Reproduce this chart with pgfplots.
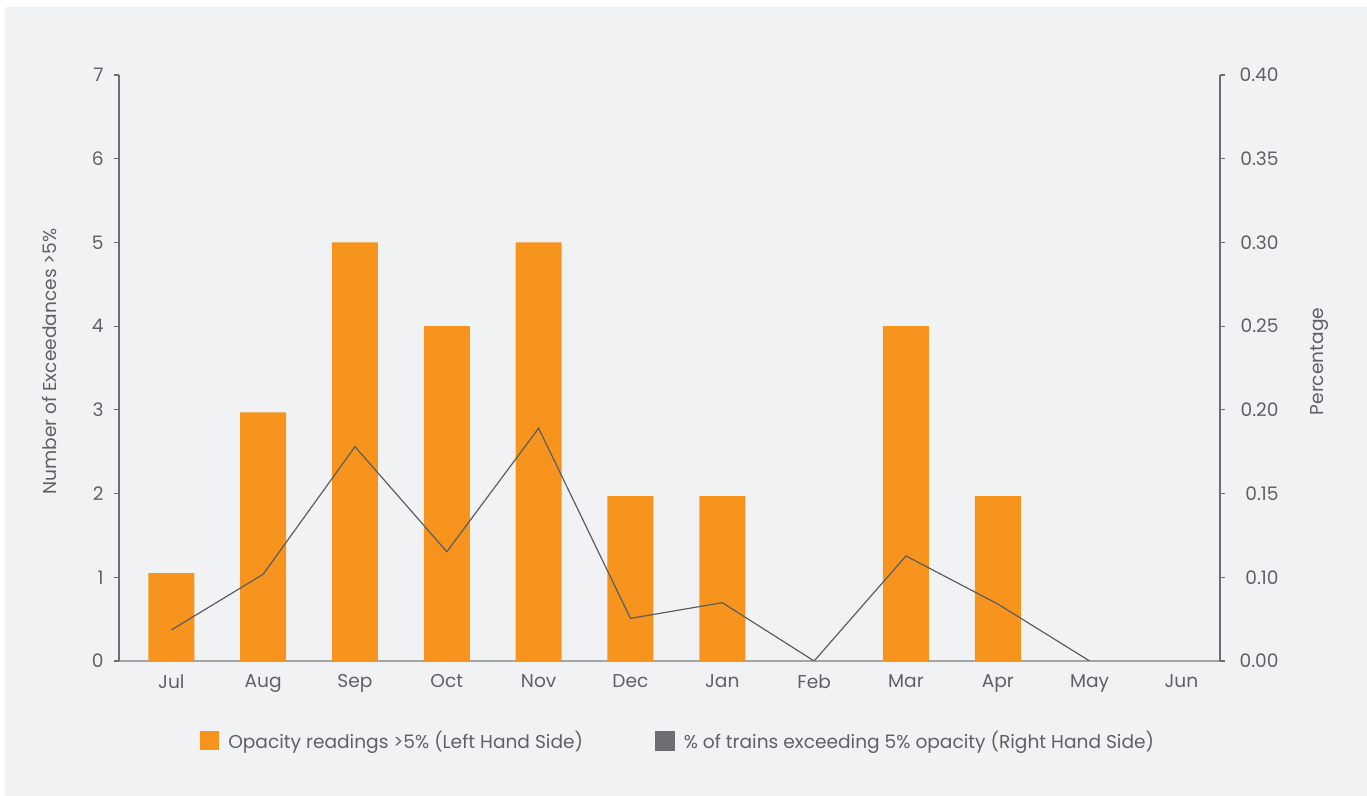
\documentclass[border=0pt]{standalone}
\usepackage{pgfplots}
\usepackage{pgfplotstable}
\pgfplotsset{compat=1.18}
\usepackage{fontspec}
\setmainfont{Poppins}

\definecolor{panel}{HTML}{F1F2F4}
\definecolor{barorange}{HTML}{F7941D}
\definecolor{txt}{HTML}{606164}
\definecolor{axisgray}{HTML}{6D6E71}
\definecolor{basegray}{HTML}{A3A4A6}
\definecolor{linegray}{HTML}{5C5D60}

% monthly exceedance counts (left axis); months with no readings have no bar
\pgfplotstableread{
x count
0 1.05
1 2.97
2 5
3 4
4 5
5 1.97
6 1.97
8 4
9 1.97
}\counts

% share of trains exceeding 5% opacity (right axis)
\pgfplotstableread{
x pct
0 0.0212
1 0.0592
2 0.1463
3 0.0746
4 0.1589
5 0.0291
6 0.0398
7 0
8 0.0717
9 0.0389
10 0
}\shares

\pgfplotsset{
  common/.style={
    at={(59.5pt,67.5pt)}, anchor=south west,
    scale only axis, width=550.5pt, height=293pt,
    xmin=-0.57, xmax=11.42,
    font=\fontsize{9.3}{11}\selectfont,
    /pgf/number format/assume math mode=true,
    tick label style={text=txt},
    label style={text=txt},
    tick align=outside,
    major tick length=2.5pt,
  },
}

\begin{document}
\begin{tikzpicture}[x=1pt,y=1pt]
\fill[white] (0,0) rectangle (683.5,398);
\fill[panel] (2.5,0) rectangle (683.5,394.5);

\begin{axis}[
  common,
  ymin=0, ymax=7,
  axis y line*=left, axis x line*=bottom,
  ytick={0,1,...,7},
  xtick={0,...,11},
  xticklabels={Jul,Aug,Sep,Oct,Nov,Dec,Jan,Feb,Mar,Apr,May,Jun},
  x tick style={draw=none},
  y tick style={draw=axisgray, line width=0.6pt},
  x axis line style={draw=basegray, line width=1pt, -},
  y axis line style={draw=axisgray, line width=0.6pt, -},
  xticklabel style={anchor=north, inner sep=0pt, yshift=-4pt},
  yticklabel style={anchor=east, inner sep=0pt, xshift=-5pt},
  ylabel={Number of Exceedances >5\%},
  ylabel style={at={(axis description cs:-0.0627,0.511)}, anchor=center, rotate=0},
  legend style={
    at={(axis description cs:0.507,-0.1365)}, anchor=center,
    draw=none, fill=none, legend columns=2,
    font=\fontsize{9.3}{11}\selectfont, text=txt,
    nodes={inner sep=0pt},
    /tikz/every odd column/.append style={column sep=4.5pt},
    /tikz/every even column/.append style={column sep=36pt},
  },
  legend cell align=left,
]
\addplot[ybar, bar width=23pt, bar shift=0pt, fill=barorange, draw=none,
  legend image code/.code={\fill[barorange] (0pt,-4.75pt) rectangle (9.5pt,4.75pt);}]
  table[x=x, y=count] {\counts};
\addlegendentry{Opacity readings >5\% (Left Hand Side)}
\addlegendimage{legend image code/.code={\fill[axisgray] (0pt,-4.75pt) rectangle (9.5pt,4.75pt);}}
\addlegendentry{\% of trains exceeding 5\% opacity (Right Hand Side)}
\end{axis}

\begin{axis}[
  common,
  ymin=0, ymax=0.4,
  axis y line*=right, axis x line=none,
  ytick={0,0.0571429,0.1142857,0.1714286,0.2285714,0.2857143,0.3428571,0.4},
  yticklabels={0.00,0.10,0.15,0.20,0.25,0.30,0.35,0.40},
  y tick style={draw=axisgray, line width=0.6pt},
  y axis line style={draw=axisgray, line width=0.6pt, -},
  yticklabel style={anchor=east, inner sep=0pt, xshift=27pt},
  ylabel={Percentage},
  ylabel style={at={(axis description cs:1.0908,0.511)}, anchor=center, rotate=0},
]
\addplot[linegray, line width=0.6pt, mark=none] table[x=x, y=pct] {\shares};
\end{axis}
\end{tikzpicture}
\end{document}
